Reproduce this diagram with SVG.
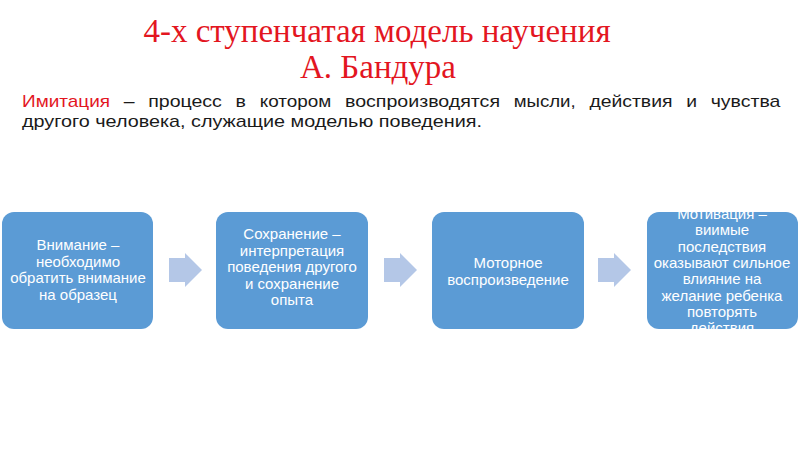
<svg xmlns="http://www.w3.org/2000/svg" width="800" height="450" viewBox="0 0 800 450">
<style>
.title{font-family:"Liberation Serif","Times New Roman",serif;font-size:33px;fill:#e3161f;text-anchor:middle}
.body{font-family:"Liberation Sans",Arial,sans-serif;font-size:17px;fill:#1a1a1a}
.red{fill:#e3161f}
.box{fill:#5b9bd5}
.arrow{fill:#b4c7e7}
.lbl{font-family:"Liberation Sans",Arial,sans-serif;font-size:15px;fill:#fff;text-anchor:middle}
</style>
<defs>
<clipPath id="clip4"><rect x="647" y="212" width="151" height="117" rx="12"/></clipPath>
</defs>
<rect width="800" height="450" fill="#fff"/>
<text class="title" x="377" y="42">4-х ступенчатая модель научения</text>
<text class="title" x="378" y="78">А. Бандура</text>
<g id="definition">
<text class="body red" x="22" y="107" textLength="88" lengthAdjust="spacingAndGlyphs">Имитация</text>
<text class="body" x="123.7" y="107" textLength="10.8" lengthAdjust="spacingAndGlyphs">–</text>
<text class="body" x="148.2" y="107" textLength="73.7" lengthAdjust="spacingAndGlyphs">процесс</text>
<text class="body" x="235.6" y="107" textLength="10.4" lengthAdjust="spacingAndGlyphs">в</text>
<text class="body" x="259.7" y="107" textLength="71.6" lengthAdjust="spacingAndGlyphs">котором</text>
<text class="body" x="345" y="107" textLength="155" lengthAdjust="spacingAndGlyphs">воспроизводятся</text>
<text class="body" x="513.7" y="107" textLength="62" lengthAdjust="spacingAndGlyphs">мысли,</text>
<text class="body" x="589.4" y="107" textLength="83.1" lengthAdjust="spacingAndGlyphs">действия</text>
<text class="body" x="686.2" y="107" textLength="10.8" lengthAdjust="spacingAndGlyphs">и</text>
<text class="body" x="710.7" y="107" textLength="69.7" lengthAdjust="spacingAndGlyphs">чувства</text>
<text class="body" x="22" y="127" textLength="460" lengthAdjust="spacingAndGlyphs">другого человека, служащие моделью поведения.</text>
</g>
<g id="connectors">
<polygon class="arrow" points="169,258 185,258 185,253 202,270 185,287 185,282 169,282"/>
<polygon class="arrow" points="384,258 400,258 400,253 417,270 400,287 400,282 384,282"/>
<polygon class="arrow" points="598,258 614,258 614,253 631,270 614,287 614,282 598,282"/>
</g>
<g id="node1">
<rect class="box" x="2" y="212" width="151" height="117" rx="12"/>
<text class="lbl" x="78"><tspan x="78" y="250">Внимание –</tspan><tspan x="78" y="266.5">необходимо</tspan><tspan x="78" y="283">обратить внимание</tspan><tspan x="78" y="299.5">на образец</tspan></text>
</g>
<g id="node2">
<rect class="box" x="216" y="212" width="152" height="117" rx="12"/>
<text class="lbl" x="292"><tspan x="292" y="239">Сохранение –</tspan><tspan x="292" y="255.5">интерпретация</tspan><tspan x="292" y="272">поведения другого</tspan><tspan x="292" y="288.5">и сохранение</tspan><tspan x="292" y="305">опыта</tspan></text>
</g>
<g id="node3">
<rect class="box" x="432" y="212" width="152" height="117" rx="12"/>
<text class="lbl" x="508"><tspan x="508" y="268">Моторное</tspan><tspan x="508" y="285">воспроизведение</tspan></text>
</g>
<g id="node4">
<rect class="box" x="647" y="212" width="151" height="117" rx="12"/>
<text class="lbl" x="722" clip-path="url(#clip4)"><tspan x="722" y="219">Мотивация –</tspan><tspan x="722" y="235.3">виимые</tspan><tspan x="722" y="251.6">последствия</tspan><tspan x="722" y="267.9">оказывают сильное</tspan><tspan x="722" y="284.2">влияние на</tspan><tspan x="722" y="300.5">желание ребенка</tspan><tspan x="722" y="316.8">повторять</tspan><tspan x="722" y="333.1">действия</tspan></text>
</g>
</svg>
